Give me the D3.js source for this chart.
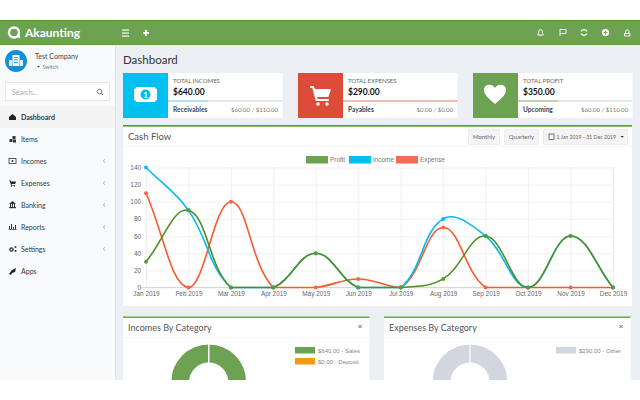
<!DOCTYPE html>
<html>
<head>
<meta charset="utf-8">
<script src="https://cdn.jsdelivr.net/npm/d3@7"></script>
<style>
html, body { margin: 0; padding: 0; background: #fff; overflow: hidden; }
svg { display: block; }
text { font-family: Lato, sans-serif; }
.tick text, .lg { font-family: "Liberation Sans", Arial, sans-serif; }
</style>
</head>
<body>
<div id="chart-area"></div>
<script>
// chart values
const months = ['Jan 2019','Feb 2019','Mar 2019','Apr 2019','May 2019','Jun 2019','Jul 2019','Aug 2019','Sep 2019','Oct 2019','Nov 2019','Dec 2019'];
const profit = [30,90,0,0,40,0,0,10,60,0,60,0];
const income = [140,90,0,0,40,0,0,80,60,0,60,0];
const expense = [110,0,100,0,0,10,0,70,0,0,0,0];
const yTicks = [0,20,40,60,80,100,120,140];
const legendNames = ['Profit','Income','Expense'];

// page text
const navItems = ['Dashboard','Items','Incomes','Expenses','Banking','Reports','Settings','Apps'];
const navArrow = [false,false,true,true,true,true,true,false];
const cardTitles = ['TOTAL INCOMES','TOTAL EXPENSES','TOTAL PROFIT'];
const cardTotals = ['$640.00','$290.00','$350.00'];
const cardLabels = ['Receivables','Payables','Upcoming'];
const cardRanges = ['$60.00 / $110.00','$0.00 / $0.00','$60.00 / $110.00'];
const cardProgress = [0.35,1,0.35];
const incomeCats = ['$640.00 - Sales','$0.00 - Deposit'];
const incomeCatValues = [640,0];
const expenseCats = ['$290.00 - Other'];
const expenseCatValues = [290];

const green = '#6da252', lineGreen = '#4f9a1f', blue = '#00c0ef', red = '#dd4b39';

const svg = d3.select('#chart-area').append('svg')
    .attr('width', 640)
    .attr('height', 400);

function rect(p, x, y, w, h, fill) {
    return p.append('rect').attr('x', x).attr('y', y).attr('width', w).attr('height', h).attr('fill', fill);
}
function label(p, x, y, str, size, fill, weight, anchor) {
    return p.append('text').attr('x', x).attr('y', y).text(str)
        .attr('font-size', size).attr('fill', fill)
        .attr('font-weight', weight || 400)
        .attr('text-anchor', anchor || 'start');
}

// backgrounds
rect(svg, 0, 45, 640, 335, '#ecf0f5');
rect(svg, 0, 45, 115, 335, '#f9fafc');
rect(svg, 115, 45, 1, 335, '#dde1e8');

// header
rect(svg, 0, 20, 640, 25, green);
rect(svg, 0, 20, 640, 1, lineGreen);
rect(svg, 0, 44.5, 640, 0.5, lineGreen);
svg.append('circle').attr('cx', 14).attr('cy', 32.5).attr('r', 5).attr('fill', 'none').attr('stroke', '#fff').attr('stroke-width', 2.4);
svg.append('path').attr('d', 'M16 36 L20 38.5 L20 35 Z').attr('fill', '#fff');
label(svg, 25, 37, 'Akaunting', 12, '#fff', 700);
[29.5, 32.5, 35.5].forEach(y => rect(svg, 122, y, 7, 1.1, '#fff'));
rect(svg, 143, 32, 6, 1.8, '#fff');
rect(svg, 145.1, 29.8, 1.8, 6, '#fff');

// header icons on the right
const hi = svg.append('g').attr('fill', 'none').attr('stroke', '#fff').attr('stroke-width', 0.9);
hi.append('path').attr('d', 'M537.5 35 q1.2 -1 1.2 -3 q0 -2.6 1.8 -2.6 q1.8 0 1.8 2.6 q0 2 1.2 3 Z M540 36 h1');
hi.append('path').attr('d', 'M560 36 V29 M560 29.5 h6 v4 h-6');
hi.append('path').attr('d', 'M581 31.5 a3.4 3.4 0 0 1 6 0 M587 33.5 a3.4 3.4 0 0 1 -6 0').attr('stroke-width', 1.3);
svg.append('circle').attr('cx', 605.5).attr('cy', 32.5).attr('r', 3.6).attr('fill', '#fff');
rect(svg, 603.7, 32, 3.6, 1, green);
rect(svg, 605, 30.7, 1, 3.6, green);
hi.append('path').attr('d', 'M624.5 36 v-2.5 h5.5 v2.5 Z M625.6 33.5 v-2 a1.6 1.6 0 0 1 3.3 0 v2');

// company and search
svg.append('circle').attr('cx', 16).attr('cy', 61).attr('r', 11).attr('fill', '#1190d8');
rect(svg, 12.5, 55, 7, 11, '#fff');
rect(svg, 9, 60, 3, 6, '#e4f2fb');
rect(svg, 20, 60, 3, 6, '#e4f2fb');
[57, 59.5, 62].forEach(wy => rect(svg, 14, wy, 4, 0.9, '#1190d8'));
label(svg, 35, 58.5, 'Test Company', 7, '#444');
svg.append('path').attr('d', 'M37 66 h3 l-1.5 1.6 Z').attr('fill', '#333');
label(svg, 42.5, 69, 'Switch', 5.4, '#777');
rect(svg, 5.5, 82.5, 104, 18, '#fff').attr('stroke', '#e4e7ec');
label(svg, 12, 94.5, 'Search...', 7, '#aaa');
svg.append('circle').attr('cx', 99.5).attr('cy', 91.5).attr('r', 2.3).attr('fill', 'none').attr('stroke', '#777').attr('stroke-width', 0.9);
svg.append('path').attr('d', 'M101.3 93.3 L103 95').attr('stroke', '#777').attr('stroke-width', 1);

// sidebar menu
rect(svg, 0, 106, 115, 22, '#f4f4f5');
const navY = d3.scalePoint().domain(navItems).range([117, 271]);
const nav = svg.append('g');
navItems.forEach((name, i) => {
    const y = navY(name);
    label(nav, 21, y + 2.5, name, 7, '#2b3a4a', i == 0 ? 700 : 400);
    if (i == 7) nav.append('path').attr('d', `M9 ${y+3} L12 ${y-1} L16 ${y-3} L15 ${y+1} L12 ${y+2} L11 ${y+4} Z`).attr('fill', '#222');
    else if (i == 2) {
        rect(nav, 9, y - 2.5, 7, 5, 'none').attr('stroke', '#333').attr('stroke-width', 0.8);
        nav.append('circle').attr('cx', 12.5).attr('cy', y).attr('r', 1).attr('fill', '#333');
    }
    else if (i == 3) {
        nav.append('path').attr('d', `M9 ${y-2.5} h1.5 l0.6 1 h4.9 l-0.9 2.6 h-3.6 l0.3 0.8 h3.3 v0.7 h-4 l-1.2 -4.4 h-0.9 Z`).attr('fill', '#222');
        nav.append('circle').attr('cx', 11.5).attr('cy', y + 3).attr('r', 0.7).attr('fill', '#222');
        nav.append('circle').attr('cx', 14.5).attr('cy', y + 3).attr('r', 0.7).attr('fill', '#222');
    }
    else if (i == 5) {
        [0,2,4,6].forEach((d, k) => rect(nav, 9 + d, y - [1,3,0,2][k], 1, [3,5,2,4][k], '#333'));
        rect(nav, 8.5, y + 2, 8, 0.7, '#333');
    }
    else if (i == 4) {
        nav.append('path').attr('d', `M9 ${y-1} L12.5 ${y-4} L16 ${y-1} Z`).attr('fill', '#333');
        rect(nav, 9, y + 2, 7, 1.2, '#333');
        [10, 12, 14].forEach(x => rect(nav, x, y - 1, 1, 3, '#333'));
    }
    else if (i == 6) {
        nav.append('circle').attr('cx', 11.5).attr('cy', y + 0.5).attr('r', 1.7).attr('fill', 'none').attr('stroke', '#333').attr('stroke-width', 1.3);
        nav.append('circle').attr('cx', 15.5).attr('cy', y - 2).attr('r', 1).attr('fill', '#333');
        nav.append('circle').attr('cx', 15.5).attr('cy', y + 2).attr('r', 1).attr('fill', '#333');
    }
    else if (i == 1) {
        [[12.5, y - 3], [9.5, y], [13, y + 0.5]].forEach(b => rect(nav, b[0], b[1], 3, 3, '#333'));
    }
    else {
        nav.append('path').attr('d', `M9 ${y} L12.5 ${y-3} L16 ${y} V${y+3} H9 Z`).attr('fill', '#222');
    }
    if (navArrow[i]) nav.append('path').attr('d', `M105 ${y-1.6} L103.2 ${y} L105 ${y+1.6}`).attr('fill', 'none').attr('stroke', '#888').attr('stroke-width', 0.7);
});

// page title
label(svg, 123, 63.5, 'Dashboard', 11.5, '#333');

// stat cards
const cardX = [123, 298, 473];
const cardColor = [blue, red, green];
const cardBar = ['#b0e2f6', '#f1b9b1', '#bcd3ae'];
cardTitles.forEach((t, i) => {
    const x = cardX[i];
    const g = svg.append('g');
    rect(g, x, 73, 159.5, 45, '#fff');
    rect(g, x, 73, 45, 45, cardColor[i]);
    const tx = x + 50;
    label(g, tx, 83, t, 6, '#666');
    label(g, tx, 95, cardTotals[i], 8.5, '#111', 700);
    rect(g, x + 45, 100, 114.5, 1.8, '#e6e6e6');
    rect(g, x + 45, 100, 114.5 * cardProgress[i], 1.8, cardBar[i]);
    label(g, tx, 111.5, cardLabels[i], 6.6, '#33475b', 700);
    label(g, x + 155, 111.5, cardRanges[i], 6, '#777', 400, 'end');
});
// banknote
rect(svg, 134, 87, 23, 15, '#fff');
[[134, 87], [157, 87], [134, 102], [157, 102]].forEach(c => svg.append('circle').attr('cx', c[0]).attr('cy', c[1]).attr('r', 2).attr('fill', blue));
svg.append('circle').attr('cx', 145.5).attr('cy', 94.5).attr('r', 5).attr('fill', blue);
label(svg, 145.5, 97.5, '1', 8, '#fff', 700, 'middle');
// cart
svg.append('path').attr('d', 'M310 86 h3.5 l1.5 3 h16 l-2.5 8 h-11.5 l0.8 2 h11 v2 h-13 l-3.5 -13 h-2.3 Z').attr('fill', '#fff');
svg.append('circle').attr('cx', 318).attr('cy', 104).attr('r', 1.8).attr('fill', '#fff');
svg.append('circle').attr('cx', 327).attr('cy', 104).attr('r', 1.8).attr('fill', '#fff');
// heart
svg.append('path').attr('d', 'M495 104 C488 98 484 94.5 484 90 C484 84 492 83 495 88 C498 83 506 84 506 90 C506 94.5 502 98 495 104 Z').attr('fill', '#fff');

// cash flow box
rect(svg, 123, 125, 509, 181, '#fff');
rect(svg, 123, 125, 509, 1.6, lineGreen);
rect(svg, 123, 146.5, 509, 0.6, '#f2f2f2');
label(svg, 128, 140, 'Cash Flow', 9.5, '#555');

const btnX = [468.5, 504.5, 543.5];
const btnW = [31, 34, 84];
const btnText = ['Monthly', 'Quarterly', '1 Jan 2019 - 31 Dec 2019'];
btnText.forEach((t, i) => {
    rect(svg, btnX[i], 129.5, btnW[i], 15, '#f4f4f4').attr('stroke', '#ececec').attr('rx', 1.5);
    if (i < 2) label(svg, btnX[i] + btnW[i] / 2, 139, t, 6, '#666', 400, 'middle');
    else label(svg, btnX[i] + 13, 139, t, 5.2, '#666');
});
rect(svg, 549, 134, 5, 5.5, 'none').attr('stroke', '#555').attr('stroke-width', 0.8);
svg.append('path').attr('d', 'M620.5 136 h3.4 l-1.7 1.8 Z').attr('fill', '#333');

// line chart
const x = d3.scalePoint().domain(months).range([146, 613]);
const y = d3.scaleLinear().domain([0, 140]).range([287.5, 167.5]);

const xAxis = svg.append('g').attr('transform', 'translate(0,287.5)')
    .call(d3.axisBottom(x).tickSize(-120).tickPadding(4));
const yAxis = svg.append('g').attr('transform', 'translate(146,0)')
    .call(d3.axisLeft(y).tickValues(yTicks).tickSize(-467).tickPadding(5));
[xAxis, yAxis].forEach(a => {
    a.select('.domain').remove();
    a.selectAll('line').attr('stroke', '#e9e9e9').attr('stroke-width', 0.7);
    a.selectAll('text').attr('fill', '#666').attr('font-size', 6.4);
});
rect(svg, 141, 287.2, 472, 0.7, '#c9c9c9');

// spline with the control points held inside the plot, no dip under zero
function cappedSpline(context) {
    let pts;
    return {
        areaStart() {}, areaEnd() {},
        lineStart() { pts = []; },
        point(px, py) { pts.push([+px, +py]); },
        lineEnd() {
            const t = 0.4;
            const cp = pts.map((p, i) => {
                const a = pts[i - 1] || p, b = pts[i + 1] || p;
                const d01 = Math.hypot(p[0] - a[0], p[1] - a[1]);
                const d12 = Math.hypot(b[0] - p[0], b[1] - p[1]);
                const s = d01 + d12 || 1;
                const fa = t * d01 / s, fb = t * d12 / s;
                const capY = v => Math.min(y(0), Math.max(y(140), v));
                return {
                    px: p[0] - fa * (b[0] - a[0]), py: capY(p[1] - fa * (b[1] - a[1])),
                    nx: p[0] + fb * (b[0] - a[0]), ny: capY(p[1] + fb * (b[1] - a[1]))
                };
            });
            pts.forEach((p, i) => {
                if (i == 0) context.moveTo(p[0], p[1]);
                else context.bezierCurveTo(cp[i - 1].nx, cp[i - 1].ny, cp[i].px, cp[i].py, p[0], p[1]);
            });
        }
    };
}

const line = d3.line()
    .x((d, i) => x(months[i]))
    .y(d => y(d))
    .curve(cappedSpline);

const series = [expense, income, profit];
const seriesLine = ['#fb5a30', '#00bcf0', '#4f8f22'];
const seriesDot = ['#f9654c', '#00bcf0', '#5c9a38'];
series.forEach((s, k) => {
    svg.append('path').datum(s)
        .attr('d', line)
        .attr('fill', 'none')
        .attr('stroke', seriesLine[k])
        .attr('stroke-width', 1.6);
    svg.selectAll(null).data(s).enter().append('circle')
        .attr('cx', (d, i) => x(months[i]))
        .attr('cy', d => y(d))
        .attr('r', 2)
        .attr('fill', seriesDot[k]);
});

// legend
const legendX = [306, 349, 396];
const legendFill = [green, blue, '#f96a54'];
legendNames.forEach((n, i) => {
    rect(svg, legendX[i], 156, 22, 7.5, legendFill[i]);
    label(svg, legendX[i] + 24, 162, n, 6.4, '#777').attr('class', 'lg');
});

// bottom boxes
const boxX = [123, 384];
const boxTitle = ['Incomes By Category', 'Expenses By Category'];
boxTitle.forEach((t, i) => {
    rect(svg, boxX[i], 316.5, 246.5, 64, '#fff');
    rect(svg, boxX[i], 316.5, 246.5, 1.3, lineGreen);
    rect(svg, boxX[i], 337, 246.5, 0.6, '#f2f2f2');
    label(svg, boxX[i] + 5, 331, t, 9, '#555');
    label(svg, boxX[i] + 237, 329, '×', 8, '#777', 700, 'middle');
});

// doughnuts
const pie = d3.pie().sort(null);
const arc = d3.arc().innerRadius(19).outerRadius(38);
function donut(cx, values, colors) {
    svg.append('g').attr('transform', `translate(${cx},382)`)
        .selectAll('path').data(pie(values)).enter().append('path')
        .attr('d', arc)
        .attr('fill', (d, i) => colors[i])
        .attr('stroke', '#fff')
        .attr('stroke-width', 1.2);
}
donut(208.7, incomeCatValues, [green, '#f39c12']);
donut(470, expenseCatValues, ['#d2d6de']);
svg.append('path').attr('d', d3.line()([[208.7, 343], [208.7, 364]])).attr('stroke', '#fff').attr('stroke-width', 1.2);
svg.append('path').attr('d', d3.line()([[470, 343], [470, 364]])).attr('stroke', '#fff').attr('stroke-width', 1.2);

function catLegend(sx, names, colors) {
    names.forEach((n, i) => {
        const ty = 347 + i * 11;
        rect(svg, sx, ty, 20, 6.5, colors[i]);
        label(svg, sx + 23, ty + 5.5, n, 6, '#888').attr('class', 'lg');
    });
}
catLegend(295, incomeCats, [green, '#f39c12']);
catLegend(556, expenseCats, ['#d2d6de']);

// white band under the page
rect(svg, 0, 380, 640, 20, '#fff');
</script>
</body>
</html>
